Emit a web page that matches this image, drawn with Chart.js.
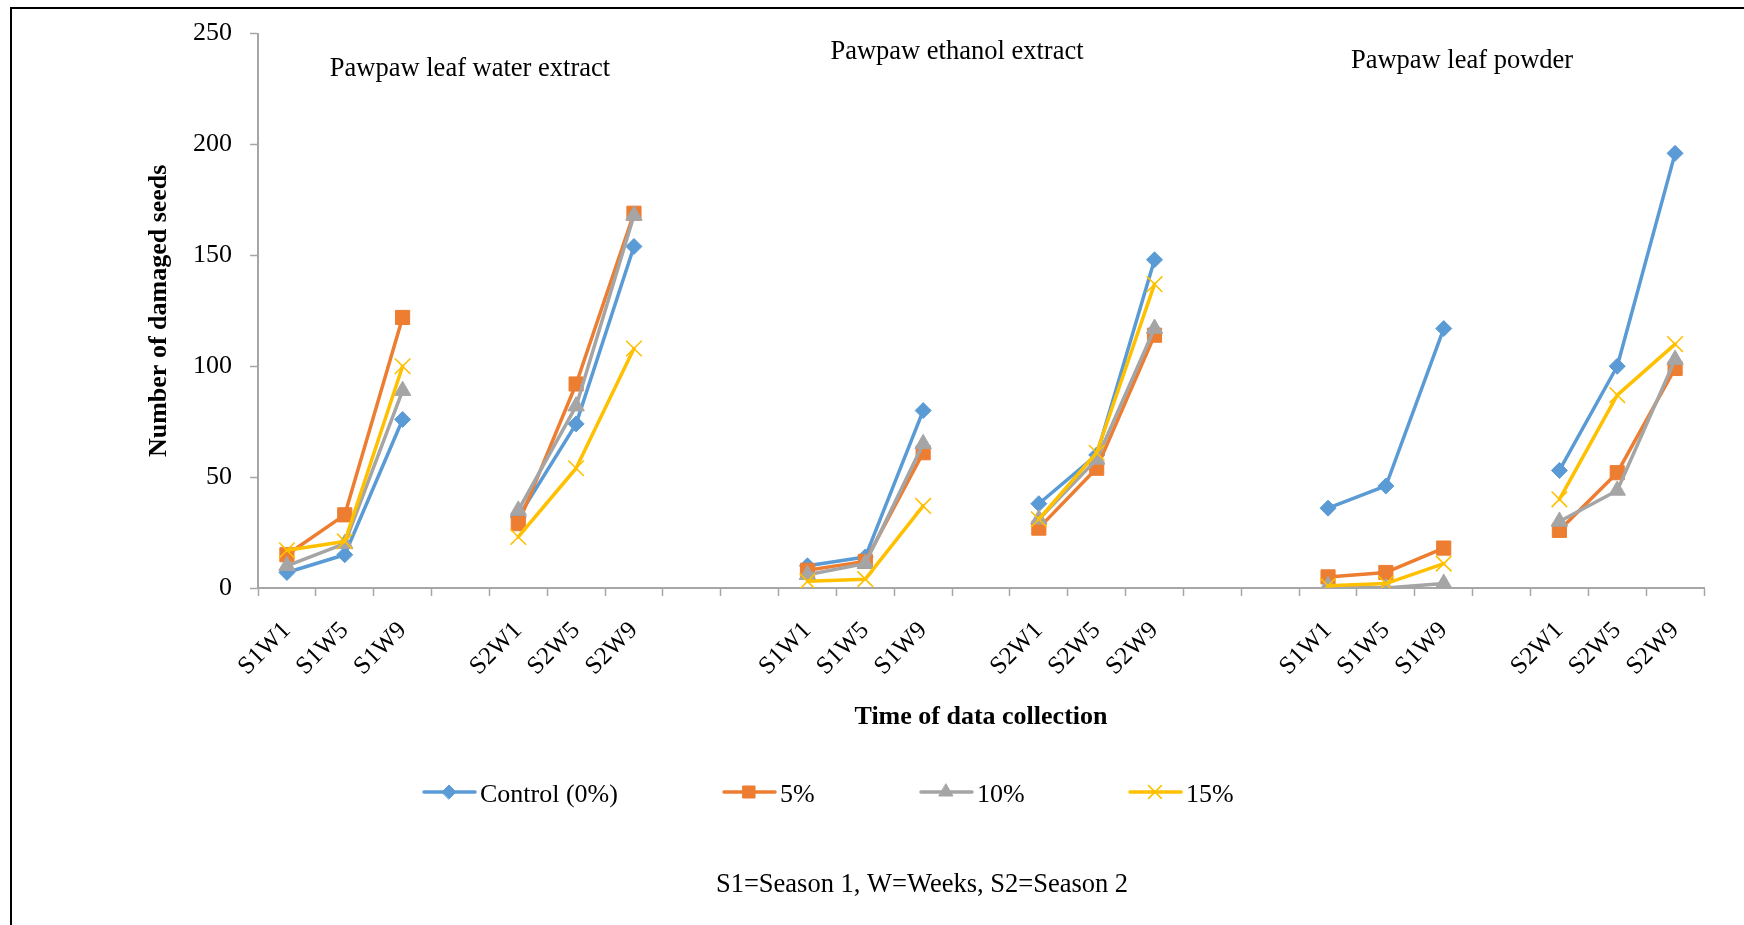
<!DOCTYPE html>
<html>
<head>
<meta charset="utf-8">
<script src="https://cdn.jsdelivr.net/npm/chart.js@4.4.1/dist/chart.umd.min.js"></script>
<style>
html,body{margin:0;padding:0;background:#fff;}
#wrap{position:relative;width:1744px;height:925px;overflow:hidden;background:#fff;}
#frame{position:absolute;left:10px;top:7px;width:3000px;height:3000px;border-left:2px solid #000;border-top:2px solid #000;}
#c{position:absolute;left:0;top:0;}
</style>
</head>
<body>
<div id="wrap"><div id="frame"></div><canvas id="c" width="1744" height="925"></canvas></div>
<script>
// ---- data ----
const categories = ['S1W1','S1W5','S1W9','','S2W1','S2W5','S2W9','','',
                    'S1W1','S1W5','S1W9','','S2W1','S2W5','S2W9','','',
                    'S1W1','S1W5','S1W9','','S2W1','S2W5','S2W9'];
const seriesNames = ['Control (0%)','5%','10%','15%'];
const control = [7,15,76,null,32,74,154,null,null, 10,14,80,null,38,60,148,null,null, 36,46,117,null,53,100,196];
const pct5    = [15,33,122,null,29,92,169,null,null, 8,12,61,null,27,54,114,null,null, 5,7,18,null,26,52,99];
const pct10   = [10,20,89,null,35,82,168,null,null, 6,11,65,null,31,58,117,null,null, 1,0,2,null,30,44,103];
const pct15   = [17,21,100,null,23,54,108,null,null, 3,4,37,null,31,61,137,null,null, 1,2,11,null,40,87,110];
const panelTitles = ['Pawpaw leaf water extract','Pawpaw ethanol extract','Pawpaw leaf powder'];
const yTitle = 'Number of damaged seeds';
const xTitle = 'Time of data collection';
const footnote = 'S1=Season 1, W=Weeks, S2=Season 2';

const FONT = '"Liberation Serif", "Times New Roman", Times, serif';
Chart.defaults.font.family = FONT;
Chart.defaults.color = '#000';

const colors = ['#5B9BD5','#ED7D31','#A5A5A5','#FFC000'];
const styles = ['rectRot','rect','triangle','crossRot'];
const radii = [8,10,9.5,11];
const legendRadii = [7,8.5,8,9];
const pbw = [1,1,1,1.6];
const values = [control,pct5,pct10,pct15];

const datasets = values.map((v,i)=>({
  label: seriesNames[i],
  data: v,
  borderColor: colors[i],
  backgroundColor: colors[i],
  pointBackgroundColor: colors[i],
  pointBorderColor: colors[i],
  pointStyle: styles[i],
  pointRadius: radii[i],
  pointHoverRadius: radii[i],
  pointBorderWidth: pbw[i],
  borderWidth: 3.5,
  borderJoinStyle: 'round',
  borderCapStyle: 'round',
  tension: 0,
  spanGaps: false,
  order: 3 - i
}));

const decor = {
  id: 'decor',
  afterDraw(chart){
    const ctx = chart.ctx;
    ctx.save();
    ctx.fillStyle = '#000';
    ctx.textBaseline = 'alphabetic';
    ctx.font = '26.5px ' + FONT;
    ctx.textAlign = 'center';
    const tpos = [[470,76],[957,59],[1462,68]];
    panelTitles.forEach((t,i)=>ctx.fillText(t, tpos[i][0], tpos[i][1]));
    // footnote
    ctx.fillText(footnote, 922, 892);
    // legend
    const lx = [423,723,920,1129];
    const ly = 792;
    ctx.textAlign = 'left';
    ctx.font = '26px ' + FONT;
    datasets.forEach((ds,i)=>{
      ctx.save();
      ctx.strokeStyle = ds.borderColor;
      ctx.lineWidth = 3.5;
      ctx.lineCap = 'round';
      ctx.beginPath(); ctx.moveTo(lx[i]+1, ly); ctx.lineTo(lx[i]+52, ly); ctx.stroke();
      ctx.fillStyle = ds.pointBackgroundColor;
      ctx.strokeStyle = ds.pointBorderColor;
      ctx.lineWidth = ds.pointBorderWidth;
      if (Chart.helpers && Chart.helpers.drawPoint) {
        Chart.helpers.drawPoint(ctx, {pointStyle: ds.pointStyle, radius: legendRadii[i], borderWidth: ds.pointBorderWidth, rotation: 0}, lx[i]+26, ly);
      }
      ctx.restore();
      ctx.fillStyle = '#000';
      ctx.fillText(ds.label, lx[i]+57, 802);
    });
    ctx.restore();
  }
};

new Chart(document.getElementById('c'), {
  type: 'line',
  data: { labels: categories, datasets },
  options: {
    responsive: false,
    animation: false,
    devicePixelRatio: 1,
    layout: { padding: { left: 143.4, top: 32, right: 40, bottom: 192.4 } },
    plugins: { legend: { display: false }, tooltip: { enabled: false } },
    scales: {
      x: {
        type: 'category',
        offset: true,
        grid: { display: true, offset: true, drawOnChartArea: false, drawTicks: true, tickLength: 8, tickWidth: 1.5, tickColor: '#A6A6A6', color: '#A6A6A6' },
        border: { display: true, color: '#A6A6A6', width: 2 },
        ticks: { autoSkip: false, minRotation: 45, maxRotation: 45, padding: 20, font: { size: 25 }, color: '#000' },
        title: { display: true, text: xTitle, font: { size: 26, weight: 'bold' }, padding: 0, color: '#000' },
        afterFit(s){ s.height = 144.6; }
      },
      y: {
        min: 0, max: 250,
        ticks: { stepSize: 50, padding: 18, font: { size: 26 }, color: '#000' },
        grid: { display: true, drawOnChartArea: false, drawTicks: true, tickLength: 8, tickWidth: 1.5, tickColor: '#A6A6A6', color: '#A6A6A6' },
        border: { display: true, color: '#A6A6A6', width: 2 },
        title: { display: true, text: yTitle, font: { size: 26, weight: 'bold' }, padding: 0, color: '#000' },
        afterFit(s){ s.width = 114.6; }
      }
    }
  },
  plugins: [decor]
});
</script>
</body>
</html>
